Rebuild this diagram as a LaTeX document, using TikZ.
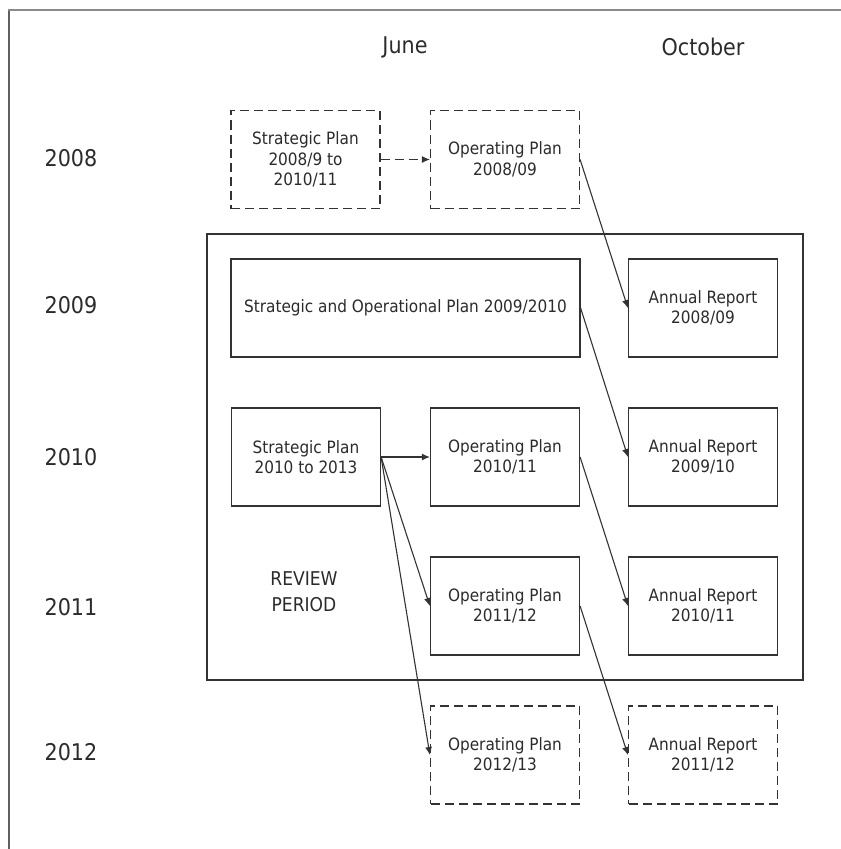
\documentclass[tikz,border=0pt]{standalone}
\usepackage{fontspec}
\setmainfont{DejaVu Sans Condensed}
\usetikzlibrary{arrows.meta}
\definecolor{txt}{HTML}{2B2B2B}
\definecolor{ln}{HTML}{333333}
\definecolor{frameA}{HTML}{606060}
\definecolor{frameB}{HTML}{8A8A8A}
\tikzset{
  boxtext/.style={font=\fontsize{17bp}{20.5bp}\selectfont, text=txt, align=center},
  solidbox/.style={boxtext, draw=ln, line width=1.2bp, minimum width=149bp, minimum height=98bp, inner sep=0pt},
  dashbox/.style={solidbox, dash pattern=on 9bp off 5bp},
  yearlbl/.style={font=\fontsize{23bp}{26bp}\selectfont, text=txt},
  conn/.style={draw=ln, line width=1.1bp, -{Latex[length=8bp,width=7bp]}},
}
\begin{document}
\begin{tikzpicture}[x=1bp,y=-1bp]
\useasboundingbox (0,0) rectangle (841,849);
% frame (partially visible)
\draw[frameA, line width=2bp] (8.5,849) -- (8.5,10);
\draw[frameB, line width=2bp] (7.5,10) -- (841,10);

% headers
\node[yearlbl] (june) at (405,47) {June};
\node[yearlbl] (oct) at (703,47) {October};

% years
\node[yearlbl] (y08) at (71,158) {2008};
\node[yearlbl] (y09) at (71,305) {2009};
\node[yearlbl] (y10) at (71,457) {2010};
\node[yearlbl] (y11) at (71,607) {2011};
\node[yearlbl] (y12) at (71,752) {2012};

% review period big box
\node[draw=ln, line width=1.2bp, minimum width=596bp, minimum height=446bp, inner sep=0pt] (review) at (505,457) {};
\node[boxtext, font=\fontsize{19bp}{26bp}\selectfont] (revtxt) at (304,592) {REVIEW\\PERIOD};

% 2008
\node[dashbox] (sp08) at (305.5,159.5) {Strategic Plan\\2008/9 to\\2010/11};
\node[dashbox] (op08) at (505,159.5) {Operating Plan\\2008/09};

% 2009
\node[solidbox, minimum width=349bp] (sop09) at (405.5,308) {Strategic and Operational Plan 2009/2010};
\node[solidbox] (ar08) at (703,308) {Annual Report\\2008/09};

% 2010
\node[solidbox] (sp10) at (306,457) {Strategic Plan\\2010 to 2013};
\node[solidbox] (op10) at (505,457) {Operating Plan\\2010/11};
\node[solidbox] (ar09) at (703,457) {Annual Report\\2009/10};

% 2011
\node[solidbox] (op11) at (505,606) {Operating Plan\\2011/12};
\node[solidbox] (ar10) at (703,606) {Annual Report\\2010/11};

% 2012
\node[dashbox] (op12) at (505,755) {Operating Plan\\2012/13};
\node[dashbox] (ar11) at (703,755) {Annual Report\\2011/12};

% connectors
\draw[conn, dash pattern=on 9bp off 5bp] (sp08.east) -- (op08.west);
\draw[conn] (op08.east) -- (ar08.west);
\draw[conn] (sop09.east) -- (ar09.west);
\draw[conn] (sp10.east) -- (op10.west);
\draw[conn] (sp10.east) -- (op11.west);
\draw[conn] (sp10.east) -- (op12.west);
\draw[conn] (op10.east) -- (ar10.west);
\draw[conn] (op11.east) -- (ar11.west);
\end{tikzpicture}
\end{document}
